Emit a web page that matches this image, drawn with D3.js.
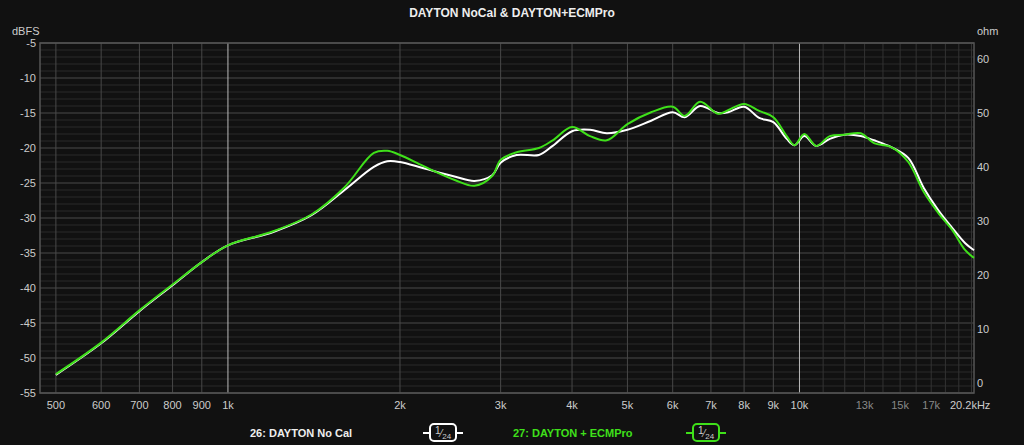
<!DOCTYPE html>
<html><head><meta charset="utf-8">
<script src="https://cdn.jsdelivr.net/npm/d3@7"></script>
<style>body{margin:0;background:#111;}svg{display:block;font-family:"Liberation Sans",Arial,sans-serif;}</style>
</head><body>
<script>
// frequencies (Hz) shared by both measurements
const freqs = [500,600,700,800,900,1000,1200,1400,1600,1800,1900,2000,2200,2500,2700,2900,3000,3200,3500,3700,4000,4300,4600,5000,5500,6000,6300,6700,7200,7500,8000,8500,9000,9500,9800,10200,10700,11300,12000,12800,13500,14500,15500,16500,17500,18500,19500,20200];
const noCal = [-52.4,-47.9,-43.3,-39.6,-36.3,-33.9,-32,-29.6,-26,-22.7,-21.9,-22,-22.9,-24.1,-24.7,-23.9,-22.1,-21,-21,-19.7,-17.6,-17.4,-17.9,-17.4,-16.1,-14.9,-15.6,-14,-15,-14.9,-14.1,-15.7,-16.3,-18.7,-19.6,-18.3,-19.7,-18.7,-18.1,-18.3,-18.9,-19.9,-21.4,-25.7,-28.9,-31.4,-33.6,-34.6];
const ecmPro = [-52.3,-47.8,-43.2,-39.5,-36.3,-33.9,-31.9,-29.5,-25.6,-20.7,-20.4,-21,-22.6,-24.6,-25.4,-24,-21.7,-20.6,-20,-18.9,-17,-18.3,-18.9,-16.6,-14.9,-14.1,-15.4,-13.4,-15.1,-14.6,-13.7,-14.7,-15.6,-18.3,-19.6,-18,-19.7,-18.3,-18.1,-17.9,-19.3,-19.9,-22,-26.3,-29.3,-31.7,-34.6,-35.7];
const xTickVals = [500,600,700,800,900,1000,2000,3000,4000,5000,6000,7000,8000,9000,10000,13000,15000,17000,20200];
const xTickLabels = ["500","600","700","800","900","1k","2k","3k","4k","5k","6k","7k","8k","9k","10k","13k","15k","17k","20.2kHz"];
const dbTicks = [-5,-10,-15,-20,-25,-30,-35,-40,-45,-50,-55];
const ohmTicks = [0,10,20,30,40,50,60];

const W = 1024, H = 445;
const m = {left: 40, right: 974, top: 43, bottom: 393};
const svg = d3.select('body').append('svg').attr('width', W).attr('height', H);
svg.append('rect').attr('width', W).attr('height', H).attr('fill', '#111');

const x = d3.scaleLog().domain([469, 20200]).range([m.left, m.right]);
const y = d3.scaleLinear().domain([-55, -5]).range([m.bottom, m.top]);
const yR = d3.scaleLinear().domain([0, 60]).range([383, 59]);

// grid
const g = svg.append('g');
const minorDb = d3.range(-55, -4, 1);
g.selectAll('.hm').data(minorDb).enter().append('line')
    .attr('x1', m.left).attr('x2', m.right).attr('y1', d => y(d)).attr('y2', d => y(d))
    .attr('stroke', d => d % 5 === 0 ? '#4a4a4a' : '#2a2a2a').attr('stroke-width', 1);
const vLines = [500,600,700,800,900,1000,2000,3000,4000,5000,6000,7000,8000,9000,10000,11000,12000,13000,14000,15000,16000,17000,18000,19000,20000];
g.selectAll('.v').data(vLines).enter().append('line')
    .attr('x1', d => x(d)).attr('x2', d => x(d)).attr('y1', m.top).attr('y2', m.bottom)
    .attr('stroke', d => (d === 1000 || d === 10000) ? '#bbb' : (d > 10000 ? '#333' : '#484848'))
    .attr('stroke-width', 1);
g.append('rect').attr('x', m.left).attr('y', m.top).attr('width', m.right - m.left).attr('height', m.bottom - m.top)
    .attr('fill', 'none').attr('stroke', '#555').attr('stroke-width', 1.5);

// axes labels
svg.selectAll('.yl').data(dbTicks).enter().append('text')
    .attr('x', 36).attr('y', d => y(d) + 4).attr('text-anchor', 'end')
    .attr('fill', '#ccc').attr('font-size', 11).text(d => d);
svg.selectAll('.yr').data(ohmTicks).enter().append('text')
    .attr('x', 977).attr('y', d => yR(d) + 4)
    .attr('fill', '#ccc').attr('font-size', 11).text(d => d);
svg.selectAll('.xl').data(xTickVals).enter().append('text')
    .attr('x', (d, i) => i === xTickVals.length - 1 ? x(d) - 24 : x(d)).attr('y', 409)
    .attr('text-anchor', (d, i) => i === xTickVals.length - 1 ? 'start' : 'middle')
    .attr('fill', d => (d > 10000 && d < 20000) ? '#888' : '#ccc').attr('font-size', 11)
    .text((d, i) => xTickLabels[i]);
svg.append('text').attr('x', 12).attr('y', 35).attr('fill', '#ccc').attr('font-size', 11).text('dBFS');
svg.append('text').attr('x', 977).attr('y', 35).attr('fill', '#ccc').attr('font-size', 11).text('ohm');
svg.append('text').attr('x', W / 2).attr('y', 17).attr('text-anchor', 'middle')
    .attr('fill', '#eee').attr('font-size', 12).attr('font-weight', 'bold').text('DAYTON NoCal & DAYTON+ECMPro');

// curves
const line = vals => d3.line().x((d, i) => x(freqs[i])).y(d => y(d)).curve(d3.curveCatmullRom)(vals);
svg.append('path').attr('d', line(noCal)).attr('fill', 'none').attr('stroke', '#fff').attr('stroke-width', 2);
svg.append('path').attr('d', line(ecmPro)).attr('fill', 'none').attr('stroke', '#3fe01a').attr('stroke-width', 2);

// legend
const legend = [{t: '26: DAYTON No Cal', c: '#fff', tx: 250, bx: 430}, {t: '27: DAYTON + ECMPro', c: '#3fe01a', tx: 513, bx: 693}];
legend.forEach(l => {
    svg.append('text').attr('x', l.tx).attr('y', 437).attr('fill', l.c === '#fff' ? '#eee' : l.c)
        .attr('font-size', 11).attr('font-weight', 'bold').text(l.t);
    svg.append('line').attr('x1', l.bx - 7).attr('x2', l.bx + 33).attr('y1', 433).attr('y2', 433).attr('stroke', l.c).attr('stroke-width', 2);
    svg.append('rect').attr('x', l.bx).attr('y', 424).attr('width', 26).attr('height', 17).attr('rx', 4)
        .attr('fill', '#111').attr('stroke', l.c).attr('stroke-width', 2);
    const t = svg.append('text').attr('x', l.bx + 5).attr('y', 437).attr('fill', '#ccc').attr('font-size', 10);
    t.append('tspan').attr('dy', -3).text('1');
    t.append('tspan').attr('dy', 3).text('⁄');
    t.append('tspan').attr('dy', 2).attr('font-size', 8).text('24');
});
</script>
</body></html>
